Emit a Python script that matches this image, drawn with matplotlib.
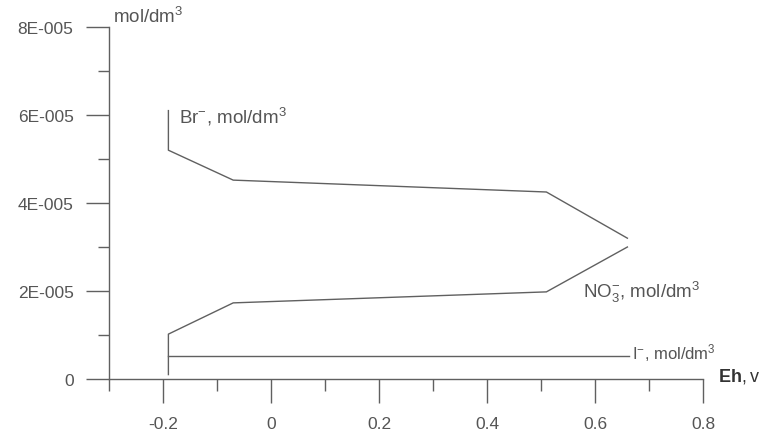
import numpy as np
import matplotlib
matplotlib.use('Agg')
import matplotlib.pyplot as plt
from matplotlib.ticker import FixedLocator

plt.rcParams['font.family'] = ['Liberation Sans', 'DejaVu Sans']
plt.rcParams['mathtext.fontset'] = 'custom'
plt.rcParams['mathtext.rm'] = 'Liberation Sans'
plt.rcParams['mathtext.it'] = 'Liberation Sans'
plt.rcParams['mathtext.bf'] = 'Liberation Sans:bold'
plt.rcParams['mathtext.default'] = 'regular'

# datos
br_eh = [-0.19, -0.19, -0.07, 0.51, 0.66]
br_c = [6.1e-5, 5.2e-5, 4.52e-5, 4.25e-5, 3.2e-5]

no3_eh = [-0.19, -0.19, -0.07, 0.51, 0.66]
no3_c = [0.1e-5, 1.02e-5, 1.73e-5, 1.98e-5, 3.0e-5]

i_eh = [-0.19, 0.663]
i_c = [0.52e-5, 0.52e-5]

x_major = [-0.2, 0, 0.2, 0.4, 0.6, 0.8]
x_labels = ['-0.2', '0', '0.2', '0.4', '0.6', '0.8']
x_minor = [-0.3, -0.1, 0.1, 0.3, 0.5, 0.7]
y_major = [0, 2e-5, 4e-5, 6e-5, 8e-5]
y_labels = ['0', '2E-005', '4E-005', '6E-005', '8E-005']
y_minor = [1e-5, 3e-5, 5e-5, 7e-5]

line_col = '#606060'
text_col = '#555555'

fig = plt.figure(figsize=(7.62, 4.35), dpi=100)
ax = fig.add_axes([0, 0, 1, 1])
ax.set_xlim(-271 / 540, 491 / 540)
ax.set_ylim(-55 / 4.4e6, 380 / 4.4e6)
ax.patch.set_visible(False)

ax.plot(br_eh, br_c, color=line_col, lw=1)
ax.plot(no3_eh, no3_c, color=line_col, lw=1)
ax.plot(i_eh, i_c, color=line_col, lw=1)

# ejes
for s in ['top', 'right']:
    ax.spines[s].set_visible(False)
ax.spines['left'].set_position(('data', -0.3))
ax.spines['bottom'].set_position(('data', 0))
ax.spines['left'].set_bounds(0, 8e-5)
ax.spines['bottom'].set_bounds(-0.3, 0.8)
for s in ['left', 'bottom']:
    ax.spines[s].set_color(line_col)
    ax.spines[s].set_linewidth(1)

ax.xaxis.set_major_locator(FixedLocator(x_major))
ax.xaxis.set_minor_locator(FixedLocator(x_minor))
ax.set_xticklabels(x_labels)
ax.yaxis.set_major_locator(FixedLocator(y_major))
ax.yaxis.set_minor_locator(FixedLocator(y_minor))
ax.set_yticklabels(y_labels)

ax.tick_params(axis='x', which='major', direction='out', length=17, width=1,
               color=line_col, labelcolor=text_col, labelsize=12.5, pad=10)
ax.tick_params(axis='x', which='minor', direction='out', length=8.5, width=1,
               color=line_col)
ax.tick_params(axis='y', which='major', direction='out', length=16.5, width=1,
               color=line_col, labelcolor=text_col, labelsize=12.5, pad=9)
ax.tick_params(axis='y', which='minor', direction='out', length=8, width=1,
               color=line_col)

# etiquetas
ax.text(-0.293, 8.25e-5, 'mol/dm$^{3}$', color=text_col, fontsize=13.5, va='center')
ax.text(-0.170, 5.97e-5, 'Br$^{-}$, mol/dm$^{3}$', color=text_col, fontsize=13.5, va='center')
ax.text(0.578, 2.0e-5, 'NO$_{3}^{-}$, mol/dm$^{3}$', color=text_col, fontsize=13.5, va='center')
ax.text(0.669, 0.62e-5, 'I$^{-}$, mol/dm$^{3}$', color=text_col, fontsize=12, va='center')
ax.text(0.828, 0.08e-5, r'$\mathbf{Eh},$v', color='#333333', fontsize=13, va='center')

fig.savefig('out.png', dpi=100)
